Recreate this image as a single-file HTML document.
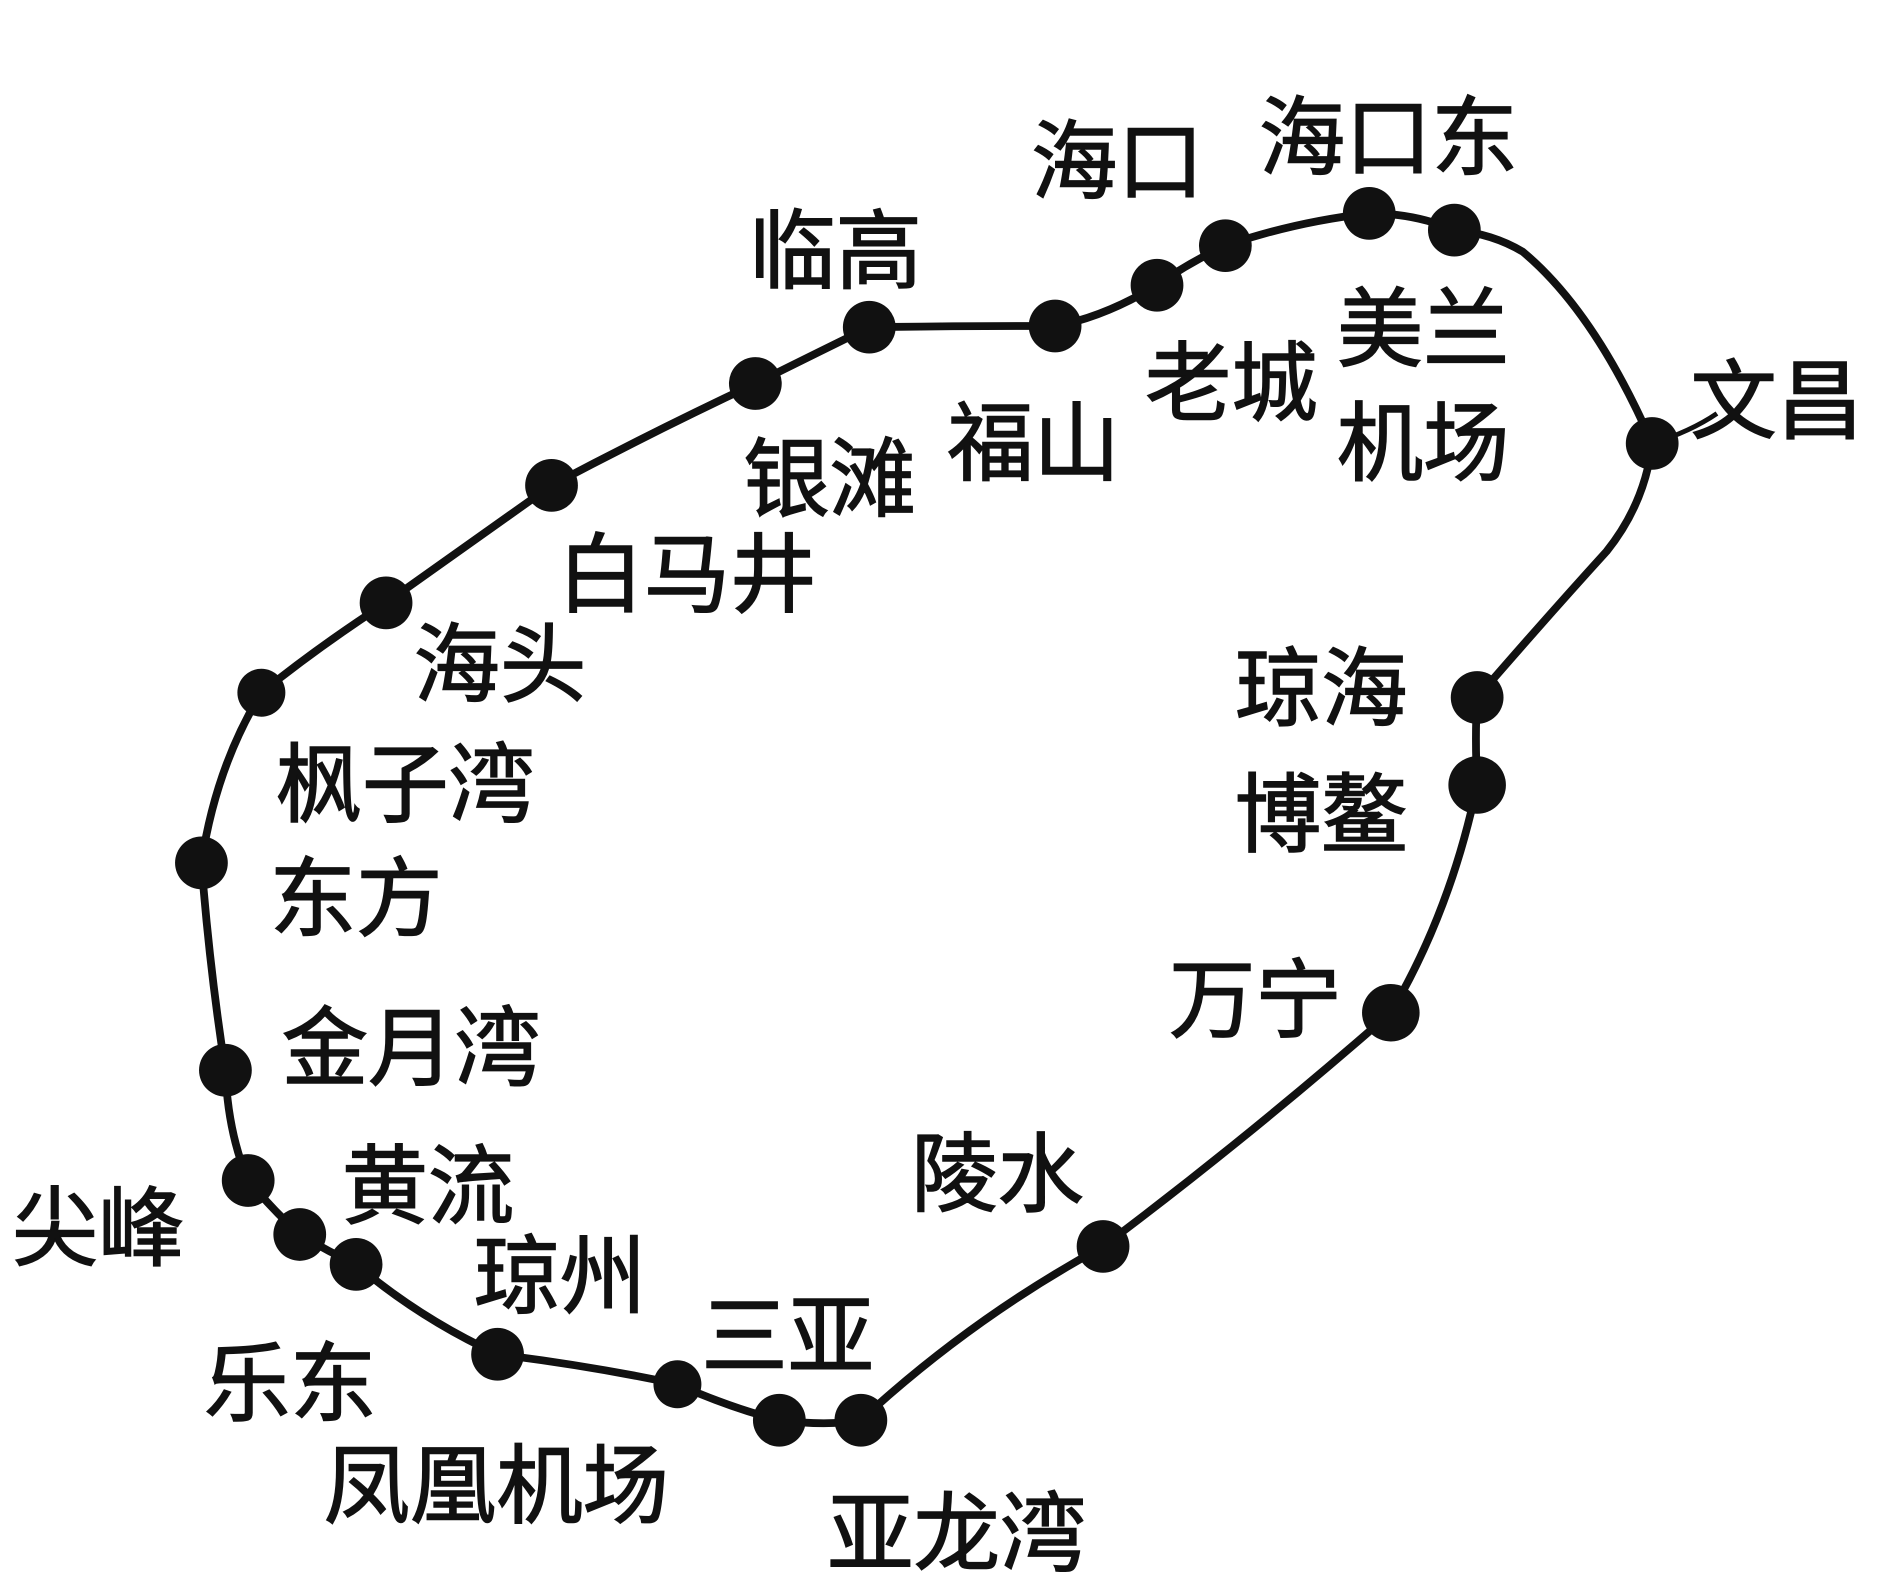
<!DOCTYPE html>
<html><head><meta charset="utf-8"><style>
html,body{margin:0;padding:0;background:#fff;width:1880px;height:1594px;overflow:hidden}
svg{display:block}
text{font-family:"Liberation Sans","Noto Sans CJK SC",sans-serif;font-size:72px;fill:#111;stroke:#111;stroke-width:1.2}
</style></head><body>
<svg width="1880" height="1594" viewBox="0 0 1568 1330" preserveAspectRatio="none">
<path d="M1213,192 Q1180,178 1142,178 Q1080,185 1022,205 Q990,220 965,238 Q920,265 880,272 Q800,272 725,273 Q680,295 630,320 Q545,360 460,405 Q390,455 322,503 Q265,540 218,578 Q180,640 168,720 Q175,810 188,893 Q190,945 207,985 Q228,1010 250,1030 Q275,1045 297,1055 Q350,1100 415,1130 Q495,1140 565,1155 Q610,1175 650,1185 Q690,1190 718,1185 Q810,1100 920,1040 Q1040,950 1160,845 Q1210,760 1232,655 Q1230,615 1232,582 Q1290,515 1340,460 Q1372,420 1378,370 Q1330,260 1270,210 Q1245,195 1213,192 Z" fill="none" stroke="#111" stroke-width="6.5"/>
<path d="M1378,370 Q1410,360 1432,345" fill="none" stroke="#111" stroke-width="4"/>
<g fill="#111">
<circle cx="1213" cy="192" r="22"/><circle cx="1142" cy="178" r="22"/><circle cx="1022" cy="205" r="22"/><circle cx="965" cy="238" r="22"/><circle cx="880" cy="272" r="22"/><circle cx="725" cy="273" r="22"/><circle cx="630" cy="320" r="22"/><circle cx="460" cy="405" r="22"/><circle cx="322" cy="503" r="22"/><circle cx="218" cy="578" r="20"/><circle cx="168" cy="720" r="22"/><circle cx="188" cy="893" r="22"/><circle cx="207" cy="985" r="22"/><circle cx="250" cy="1030" r="22"/><circle cx="297" cy="1055" r="22"/><circle cx="415" cy="1130" r="22"/><circle cx="565" cy="1155" r="20"/><circle cx="650" cy="1185" r="22"/><circle cx="718" cy="1185" r="22"/><circle cx="920" cy="1040" r="22"/><circle cx="1160" cy="845" r="24"/><circle cx="1232" cy="655" r="24"/><circle cx="1232" cy="582" r="22"/><circle cx="1378" cy="370" r="22"/>
</g>
<text x="860" y="160">海口</text>
<text x="1050" y="140">海口东</text>
<text x="625" y="235">临高</text>
<text x="1115" y="300">美兰</text>
<text x="1115" y="395">机场</text>
<text x="955" y="345">老城</text>
<text x="1410" y="360">文昌</text>
<text x="790" y="395">福山</text>
<text x="620" y="425">银滩</text>
<text x="465" y="505">白马井</text>
<text x="345" y="580">海头</text>
<text x="230" y="680">枫子湾</text>
<text x="225" y="775">东方</text>
<text x="1030" y="600">琼海</text>
<text x="1030" y="705">博鳌</text>
<text x="975" y="860">万宁</text>
<text x="235" y="900">金月湾</text>
<text x="760" y="1005">陵水</text>
<text x="285" y="1015">黄流</text>
<text x="10" y="1050">尖峰</text>
<text x="395" y="1090">琼州</text>
<text x="585" y="1140">三亚</text>
<text x="170" y="1180">乐东</text>
<text x="270" y="1265">凤凰机场</text>
<text x="690" y="1305">亚龙湾</text>
</svg>
</body></html>
